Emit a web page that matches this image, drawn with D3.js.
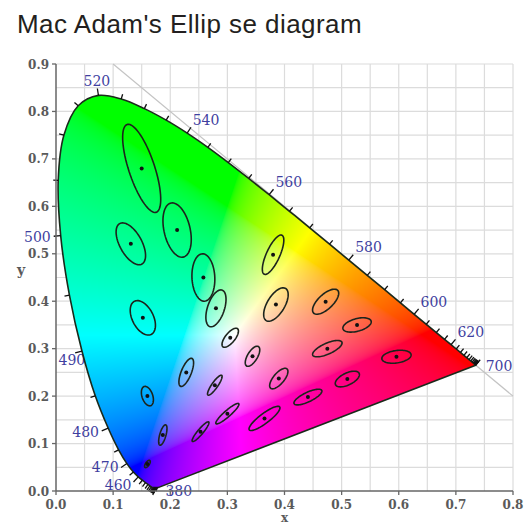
<!DOCTYPE html>
<html>
<head>
<meta charset="utf-8">
<script src="https://cdn.jsdelivr.net/npm/d3@7"></script>
<style>
  body { margin: 0; background: #fff; }
</style>
</head>
<body>
<script>
// CIE 1931 spectral locus, every 5 nm
var wavelengths = [380,385,390,395,400,405,410,415,420,425,430,435,440,445,450,455,460,465,470,475,
  480,485,490,495,500,505,510,515,520,525,530,535,540,545,550,555,560,565,570,575,580,585,590,595,
  600,605,610,615,620,625,630,635,640,645,650,655,660,665,670,675,680,685,690,695,700];
var locusX = [0.1741,0.1740,0.1738,0.1736,0.1733,0.1730,0.1726,0.1721,0.1714,0.1703,0.1689,0.1669,
  0.1644,0.1611,0.1566,0.1510,0.1440,0.1355,0.1241,0.1096,0.0913,0.0687,0.0454,0.0235,0.0082,0.0039,
  0.0139,0.0389,0.0743,0.1142,0.1547,0.1929,0.2296,0.2658,0.3016,0.3373,0.3731,0.4087,0.4441,0.4788,
  0.5125,0.5448,0.5752,0.6029,0.6270,0.6482,0.6658,0.6801,0.6915,0.7006,0.7079,0.7140,0.7190,0.7230,
  0.7260,0.7283,0.7300,0.7311,0.7320,0.7327,0.7334,0.7340,0.7344,0.7346,0.7347];
var locusY = [0.0050,0.0050,0.0049,0.0049,0.0048,0.0048,0.0048,0.0048,0.0051,0.0058,0.0069,0.0086,
  0.0109,0.0138,0.0177,0.0227,0.0297,0.0399,0.0578,0.0868,0.1327,0.2007,0.2950,0.4127,0.5384,0.6548,
  0.7502,0.8120,0.8338,0.8262,0.8059,0.7816,0.7543,0.7243,0.6923,0.6589,0.6245,0.5896,0.5547,0.5202,
  0.4866,0.4544,0.4242,0.3965,0.3725,0.3514,0.3340,0.3197,0.3083,0.2993,0.2920,0.2859,0.2809,0.2770,
  0.2740,0.2717,0.2700,0.2689,0.2680,0.2673,0.2666,0.2660,0.2656,0.2654,0.2653];
var labelWavelengths = [380,460,470,480,490,500,520,540,560,580,600,620,700];

// MacAdam (1942) ellipses: centre, semi-axes (x 1e-3), angle in degrees
var ellX = [0.160,0.187,0.253,0.150,0.131,0.212,0.258,0.152,0.280,0.380,0.160,0.228,0.305,
  0.385,0.472,0.527,0.475,0.510,0.596,0.344,0.390,0.441,0.278,0.300,0.365];
var ellY = [0.057,0.118,0.125,0.680,0.521,0.550,0.450,0.365,0.385,0.498,0.200,0.250,0.323,
  0.393,0.399,0.350,0.300,0.236,0.283,0.284,0.237,0.198,0.223,0.163,0.153];
var ellA = [0.85,2.2,2.5,9.6,4.7,5.8,5.0,3.8,4.0,4.4,2.1,3.1,2.3,3.8,3.2,2.6,2.9,2.4,2.6,2.3,2.5,2.8,2.4,2.9,3.6];
var ellB = [0.35,0.55,0.5,2.3,2.0,2.3,2.0,1.9,1.5,1.2,0.95,0.9,0.9,1.6,1.4,1.3,1.1,1.2,1.3,0.9,1.0,0.95,0.55,0.6,0.95];
var ellTheta = [62.5,77,55.5,105,112.5,100,92,110,75.5,70,104,72,58,65.5,51,20,29.5,33,11,65,57,31,60.5,47,43];

var xTicks = [0,0.1,0.2,0.3,0.4,0.5,0.6,0.7,0.8];
var yTicks = [0,0.1,0.2,0.3,0.4,0.5,0.6,0.7,0.8,0.9];

var width = 525, height = 524;
var magnify = 10;

var svg = d3.select("body").append("svg")
  .attr("width", width)
  .attr("height", height)
  .style("background-color", "#fff");

var x = d3.scaleLinear().domain([0, 0.8]).range([56, 513]);
var y = d3.scaleLinear().domain([0, 0.9]).range([491, 64]);

svg.append("text")
  .attr("x", 17).attr("y", 33)
  .style("font-family", "'Liberation Sans', Arial, sans-serif")
  .style("font-size", "26px")
  .style("letter-spacing", "0.45px")
  .style("fill", "#231f20")
  .text("Mac Adam's Ellip se diagram");

// grid every 0.05
var grid = svg.append("g");
grid.selectAll("line.gx").data(d3.range(1, 17).map(function (i) { return i * 0.05; }))
  .enter().append("line")
  .attr("x1", function (d) { return x(d); }).attr("x2", function (d) { return x(d); })
  .attr("y1", y(0)).attr("y2", y(0.9))
  .style("stroke", "#dcdcdc").style("stroke-width", 1.2);
grid.selectAll("line.gy").data(d3.range(1, 19).map(function (i) { return i * 0.05; }))
  .enter().append("line")
  .attr("x1", x(0)).attr("x2", x(0.8))
  .attr("y1", function (d) { return y(d); }).attr("y2", function (d) { return y(d); })
  .style("stroke", "#dcdcdc").style("stroke-width", 1.2);

// x + y = 1
svg.append("line")
  .attr("x1", x(0.1)).attr("y1", y(0.9))
  .attr("x2", x(0.8)).attr("y2", y(0.2))
  .style("stroke", "#c4c4c4").style("stroke-width", 1.2);

var pts = wavelengths.map(function (w, i) { return [x(locusX[i]), y(locusY[i])]; });
var locusPath = d3.line().curve(d3.curveCatmullRom.alpha(0.5))(pts) + "Z";

svg.append("clipPath").attr("id", "locus")
  .append("path").attr("d", locusPath);

// wavelength ticks and labels
function normalAt(i) {
  var j = i, k = i, n = pts.length;
  while (Math.hypot(pts[k][0] - pts[j][0], pts[k][1] - pts[j][1]) < 4 && (j > 0 || k < n - 1)) {
    if (j > 0) j--;
    if (k < n - 1) k++;
  }
  var tx = pts[k][0] - pts[j][0], ty = pts[k][1] - pts[j][1], L = Math.hypot(tx, ty);
  return [ty / L, -tx / L];
}
var labelFont = "'DejaVu Serif', serif";
var nudge = {490: [13, 6], 460: [0, -5], 470: [0, -2], 380: [0, 2]};
labelWavelengths.forEach(function (w) {
  var i = wavelengths.indexOf(w);
  var n = (w === 700 || w === 380) ? [1, 0.05] : normalAt(i);
  var d = 10, nd = nudge[w] || [0, 0];
  var anchor = n[0] > 0.3 ? "start" : (n[0] < -0.3 ? "end" : "middle");
  var dy = n[1] < -0.7 ? "0em" : (n[1] > 0.7 ? "0.8em" : "0.36em");
  svg.append("text")
    .attr("x", pts[i][0] + n[0] * d + nd[0]).attr("y", pts[i][1] + n[1] * d + nd[1])
    .attr("dy", dy)
    .attr("text-anchor", anchor)
    .style("font-family", labelFont).style("font-size", "14px")
    .style("fill", "#3f3f9f")
    .text(w);
});

// chromaticity colours
var x0 = Math.round(x(0)), y0 = Math.round(y(0.9));
var cw = Math.round(x(0.8)) - x0, ch = Math.round(y(0)) - y0;
var canvas = document.createElement("canvas");
canvas.width = cw; canvas.height = ch;
var ctx = canvas.getContext("2d");
var img = ctx.createImageData(cw, ch);
function gam(v) { return v <= 0.0031308 ? 12.92 * v : 1.055 * Math.pow(v, 1 / 2.4) - 0.055; }
for (var j = 0; j < ch; j++) {
  for (var i = 0; i < cw; i++) {
    var cx = x.invert(x0 + i + 0.5), cy = y.invert(y0 + j + 0.5);
    if (cy < 0.002) cy = 0.002;
    var X = cx / cy, Z = (1 - cx - cy) / cy;
    var r = 3.2406 * X - 1.5372 - 0.4986 * Z,
        g = -0.9689 * X + 1.8758 + 0.0415 * Z,
        b = 0.0557 * X - 0.2040 + 1.0570 * Z;
    r = Math.max(r, 0); g = Math.max(g, 0); b = Math.max(b, 0);
    var m = Math.max(r, g, b) || 1;
    var k = (j * cw + i) * 4;
    img.data[k] = 255 * gam(r / m);
    img.data[k + 1] = 255 * gam(g / m);
    img.data[k + 2] = 255 * gam(b / m);
    img.data[k + 3] = 255;
  }
}
ctx.putImageData(img, 0, 0);
svg.append("image")
  .attr("href", canvas.toDataURL())
  .attr("x", x0).attr("y", y0)
  .attr("width", cw).attr("height", ch)
  .attr("preserveAspectRatio", "none")
  .attr("clip-path", "url(#locus)");

svg.append("path")
  .attr("d", locusPath)
  .style("fill", "none")
  .style("stroke", "#1b2a1b")
  .style("stroke-width", 1.6)
  .style("stroke-linejoin", "round");

var ticks = svg.append("g");
wavelengths.forEach(function (w, i) {
  var n = normalAt(i), len = labelWavelengths.indexOf(w) >= 0 ? 7 : 5;
  ticks.append("line")
    .attr("x1", pts[i][0]).attr("y1", pts[i][1])
    .attr("x2", pts[i][0] + n[0] * len).attr("y2", pts[i][1] + n[1] * len)
    .style("stroke", "#111").style("stroke-width", 1.3);
});
svg.append("path")
  .attr("d", "M" + (pts[0][0] - 3) + "," + (pts[0][1] - 2) + "l6,0l-2,5z")
  .style("fill", "#111");

// axes
svg.append("line").attr("x1", x(0)).attr("x2", x(0)).attr("y1", y(0)).attr("y2", y(0.9))
  .style("stroke", "#666").style("stroke-width", 1.5);
svg.append("line").attr("x1", x(0)).attr("x2", x(0.8)).attr("y1", y(0)).attr("y2", y(0))
  .style("stroke", "#666").style("stroke-width", 1.5);

var tickFont = "'DejaVu Serif', serif";
svg.selectAll("line.xt").data(xTicks).enter().append("line")
  .attr("x1", function (d) { return x(d); }).attr("x2", function (d) { return x(d); })
  .attr("y1", y(0)).attr("y2", y(0) + 4)
  .style("stroke", "#666").style("stroke-width", 1.3);
svg.selectAll("text.xt").data(xTicks).enter().append("text")
  .attr("x", function (d) { return x(d); }).attr("y", y(0) + 18)
  .attr("text-anchor", "middle")
  .style("font-family", tickFont).style("font-size", "12px").style("font-weight", "bold")
  .style("fill", "#5a5a5a")
  .text(function (d) { return d.toFixed(1); });
svg.selectAll("line.yt").data(yTicks).enter().append("line")
  .attr("x1", x(0) - 4).attr("x2", x(0))
  .attr("y1", function (d) { return y(d); }).attr("y2", function (d) { return y(d); })
  .style("stroke", "#666").style("stroke-width", 1.3);
svg.selectAll("text.yt").data(yTicks).enter().append("text")
  .attr("x", x(0) - 7).attr("y", function (d) { return y(d) + 4.5; })
  .attr("text-anchor", "end")
  .style("font-family", tickFont).style("font-size", "12px").style("font-weight", "bold")
  .style("fill", "#5a5a5a")
  .text(function (d) { return d.toFixed(1); });
svg.append("text").attr("x", 21).attr("y", 275).attr("text-anchor", "middle")
  .style("font-family", tickFont).style("font-size", "14px").style("font-weight", "bold")
  .style("fill", "#5a5a5a").text("y");
svg.append("text").attr("x", x(0.4)).attr("y", 522).attr("text-anchor", "middle")
  .style("font-family", tickFont).style("font-size", "12px").style("font-weight", "bold")
  .style("fill", "#5a5a5a").text("x");

// ellipses
var ellLine = d3.line().curve(d3.curveLinearClosed);
var ell = svg.append("g");
ellX.forEach(function (ex, i) {
  var a = ellA[i] * 1e-3 * magnify, b = ellB[i] * 1e-3 * magnify,
      th = ellTheta[i] * Math.PI / 180;
  var p = d3.range(72).map(function (s) {
    var t = s / 72 * 2 * Math.PI;
    return [x(ex + a * Math.cos(th) * Math.cos(t) - b * Math.sin(th) * Math.sin(t)),
            y(ellY[i] + a * Math.sin(th) * Math.cos(t) + b * Math.cos(th) * Math.sin(t))];
  });
  ell.append("path").attr("d", ellLine(p))
    .style("fill", "none").style("stroke", "#1c241c").style("stroke-width", 1.6);
  ell.append("circle").attr("cx", x(ex)).attr("cy", y(ellY[i])).attr("r", 2)
    .style("fill", "#111");
});
</script>
</body>
</html>
